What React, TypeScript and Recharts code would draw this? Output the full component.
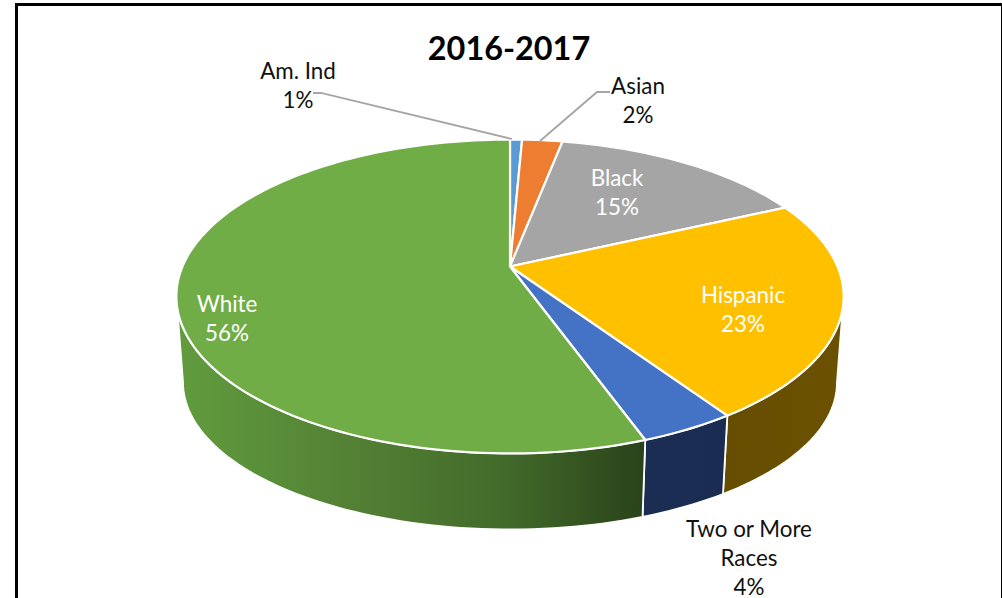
import React from "react";
import { PieChart, Pie } from "recharts";

const TITLE = "2016-2017";
const categories = ["Am. Ind", "Asian", "Black", "Hispanic", "Two or More Races", "White"];
const shares = [0.7, 2.35, 15.05, 22.47, 3.93, 55.5];
const percentLabels = ["1%", "2%", "15%", "23%", "4%", "56%"];
const topColors = ["#5b9bd5", "#ed7d31", "#a5a5a5", "#ffc000", "#4472c4", "#70ad47"];
const wallFills = ["#3a6a94", "#a35520", "#6e6e6e", "url(#wallHispanic)", "url(#wallTwo)", "url(#wallWhite)"];

const labelLines: string[][] = [["Am. Ind"], ["Asian"], ["Black"], ["Hispanic"], ["Two or More", "Races"], ["White"]];
const labelX = [298, 638, 617, 743, 749, 227];
const labelY = [78.5, 93.5, 185.5, 302.5, 537, 311.5];
const labelColor = ["#111", "#111", "#fff", "#fff", "#111", "#fff"];
const leaders: (number[][] | null)[] = [
  [[313, 93], [321, 93], [512, 139]],
  [[610, 92], [597, 92], [540, 141]],
  null, null, null, null,
];

const data = categories.map((name, i) => ({ name, share: shares[i], pct: percentLabels[i] }));

const FONT = "Lato, 'Open Sans', sans-serif";
const K = 0.191;          // perspective strength
const SQUASH = 0.4618;    // vertical foreshortening
const WALL_X = 0.98, WALL_Y = 0.936, WALL_OFF = 88;

const rim = (cx: number, cy: number, r: number, deg: number, wall = false) => {
  const t = (deg * Math.PI) / 180;
  const w = 1 + K * Math.cos(t);
  const dx = (r * Math.sin(t)) / w;
  const dy = (-r * SQUASH * Math.cos(t)) / w;
  return wall
    ? [cx + dx * WALL_X, cy + dy * WALL_Y + WALL_OFF]
    : [cx + dx, cy + dy];
};

const arcPts = (cx: number, cy: number, r: number, a: number, b: number, wall = false) => {
  const n = Math.max(2, Math.ceil(Math.abs(b - a) / 1.5));
  const pts: number[][] = [];
  for (let i = 0; i <= n; i++) pts.push(rim(cx, cy, r, a + ((b - a) * i) / n, wall));
  return pts;
};

const toPath = (pts: number[][]) => pts.map((p, i) => `${i ? "L" : "M"}${p[0].toFixed(2)},${p[1].toFixed(2)}`).join(" ");

const Slice3D = (props: any) => {
  const { cx, cy, outerRadius: r, startAngle, endAngle, index } = props;
  const a = 90 - startAngle;
  const b = 90 - endAngle;
  const frontStart = (Math.acos(-K) * 180) / Math.PI;
  const frontEnd = 360 - frontStart;
  const wa = Math.max(a, frontStart);
  const wb = Math.min(b, frontEnd);
  const top = arcPts(cx, cy, r, a, b);
  return (
    <g>
      {wb > wa && (
        <path
          d={`${toPath(arcPts(cx, cy, r, wa, wb))} ${toPath(arcPts(cx, cy, r, wb, wa, true)).replace("M", "L")} Z`}
          fill={wallFills[index]}
          stroke="#fff"
          strokeWidth={1.8}
          strokeLinejoin="round"
        />
      )}
      <path
        d={`M${cx},${cy} ${toPath(top).replace("M", "L")} Z`}
        fill={topColors[index]}
        stroke="#fff"
        strokeWidth={2.2}
        strokeLinejoin="round"
      />
    </g>
  );
};

const SliceLabel = (props: any) => {
  const { index, pct } = props;
  const lines = [...labelLines[index], pct ?? percentLabels[index]];
  const lead = leaders[index];
  return (
    <g>
      {lead && (
        <polyline points={lead.map((p) => p.join(",")).join(" ")} fill="none" stroke="#a5a5a5" strokeWidth={1.8} />
      )}
      {lines.map((t: string, i: number) => (
        <text
          key={t}
          x={labelX[index]}
          y={labelY[index] + i * 29}
          textAnchor="middle"
          fontFamily={FONT}
          fontSize={22.4}
          fill={labelColor[index]}
        >
          {t}
        </text>
      ))}
    </g>
  );
};

export default function App() {
  return (
    <div style={{ position: "absolute", left: 0, top: 0, width: 1002, height: 598, overflow: "hidden", background: "#fff" }}>
      <div style={{ position: "absolute", left: 15, top: 3, width: 983, height: 620, border: "3px solid #000" }} />
      <div style={{ position: "absolute", left: 0, top: 0 }}>
        <PieChart width={1002} height={598} margin={{ top: 0, right: 0, bottom: 0, left: 0 }}>
          <defs>
            <linearGradient id="wallWhite" gradientUnits="userSpaceOnUse" x1={176} y1={0} x2={645} y2={0}>
              <stop offset="0" stopColor="#619c3e" />
              <stop offset="0.4" stopColor="#527f34" />
              <stop offset="0.7" stopColor="#426a2a" />
              <stop offset="1" stopColor="#2a421a" />
            </linearGradient>
            <linearGradient id="wallTwo" gradientUnits="userSpaceOnUse" x1={640} y1={0} x2={727} y2={0}>
              <stop offset="0" stopColor="#1b2d53" />
              <stop offset="1" stopColor="#1a2c52" />
            </linearGradient>
            <linearGradient id="wallHispanic" gradientUnits="userSpaceOnUse" x1={723} y1={0} x2={843} y2={0}>
              <stop offset="0" stopColor="#664d00" />
              <stop offset="1" stopColor="#6b5100" />
            </linearGradient>
          </defs>
          <text x={509} y={60} textAnchor="middle" fontFamily={FONT} fontWeight={700} fontSize={32.4} fill="#000">
            {TITLE}
          </text>
          <Pie
            data={data}
            dataKey="share"
            nameKey="name"
            cx={510}
            cy={266.5}
            innerRadius={0}
            outerRadius={327.5}
            startAngle={90}
            endAngle={-270}
            stroke="none"
            isAnimationActive={false}
            shape={Slice3D}
            label={SliceLabel}
            labelLine={false}
          />
        </PieChart>
      </div>
    </div>
  );
}
